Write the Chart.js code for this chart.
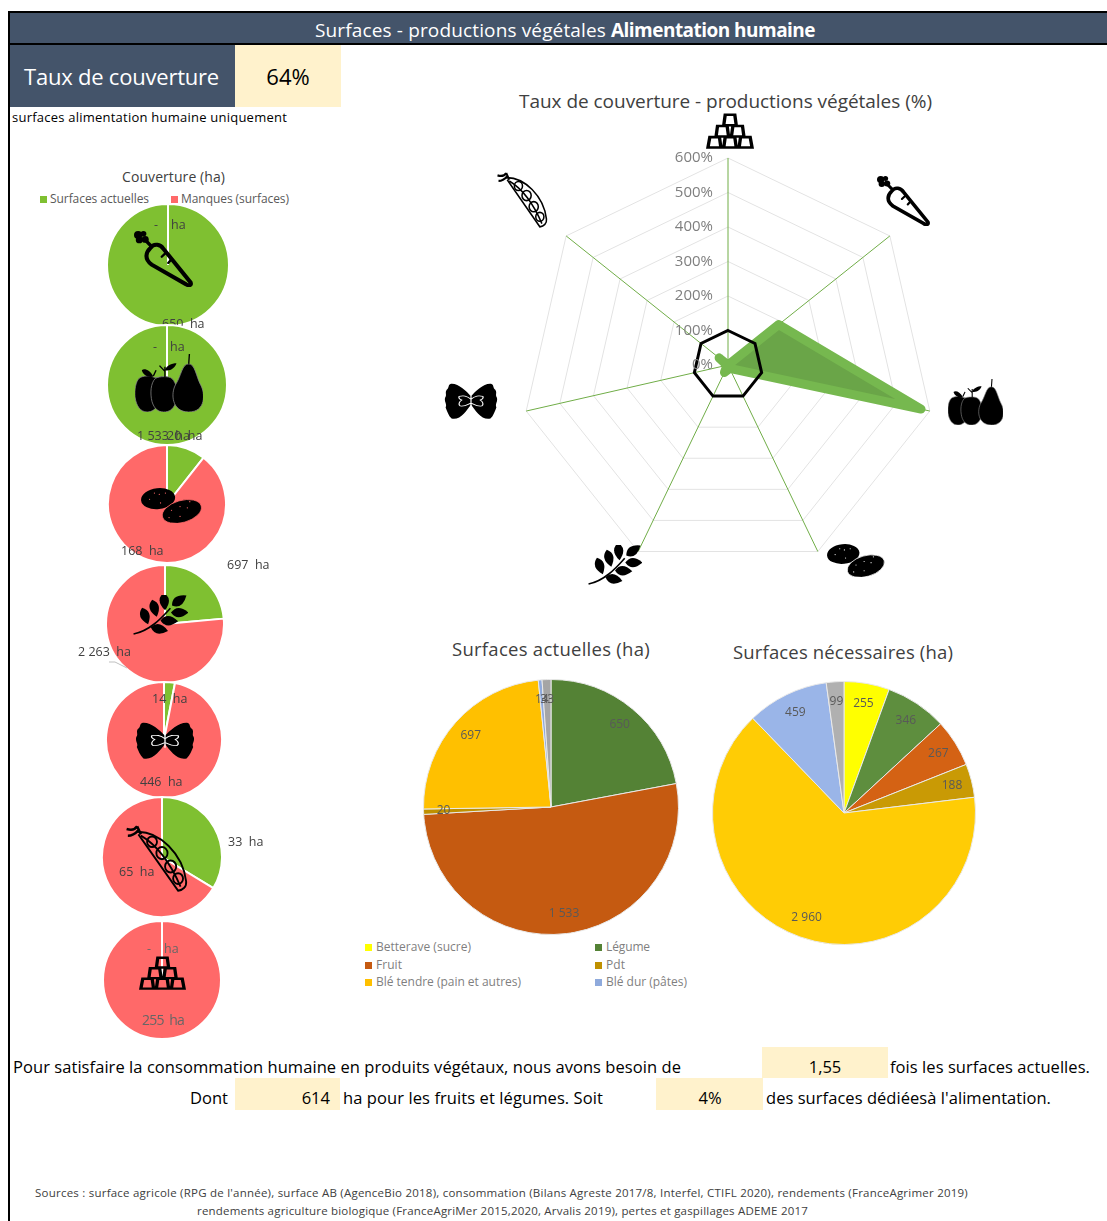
<!DOCTYPE html>
<html lang="fr">
<head>
<meta charset="utf-8">
<title>Surfaces - productions végétales</title>
<script src="https://cdn.jsdelivr.net/npm/chart.js@4"></script>
<style>
html,body{margin:0;padding:0;background:#fff}
#page{position:relative;width:1107px;height:1221px;overflow:hidden;font-family:"Open Sans",sans-serif;color:#000}
#page div,#page canvas,#page svg{position:absolute}
.t{white-space:pre;line-height:1}
</style>
</head>
<body>
<div id="page"></div>
<script>
// data
const categories = ["Betterave (sucre)", "Légume", "Fruit", "Pdt", "Blé tendre (pain et autres)", "Blé dur (pâtes)", "Pois"];
const surfacesActuelles = [0, 650, 1533, 20, 697, 14, 33];
const surfacesNecessaires = [255, 346, 267, 188, 2960, 459, 99];
const manques = [255, 0, 0, 168, 2263, 446, 65];
const tauxCouverture = [0, 188, 574, 11, 24, 3, 33];
const objectif = [100, 100, 100, 100, 100, 100, 100];
const radarTicks = ["0%", "100%", "200%", "300%", "400%", "500%", "600%"];

const colorsActuelles = ["#ffff00", "#548235", "#c55a11", "#bf9000", "#ffc000", "#8faadc", "#a5a5a5"];
const colorsNecessaires = ["#ffff00", "#5e8e3e", "#d46214", "#c99a05", "#ffcc05", "#9ab5e8", "#b0b0b0"];
const GREEN = "#7fc031", RED = "#ff6969", SLATE = "#44546a", CREAM = "#fff2cc";

const page = document.getElementById("page");

function box(x, y, w, h, color) {
  const d = document.createElement("div");
  d.style.cssText = `left:${x}px;top:${y}px;width:${w}px;height:${h}px;background:${color}`;
  page.appendChild(d);
  return d;
}

// text helper, y is the middle of the line. fit = width wanted in px
function txt(str, x, y, size, color, o = {}) {
  const d = document.createElement("div");
  d.className = "t";
  d.style.cssText = `left:${x}px;top:${y}px;font-size:${size}px;color:${color};font-weight:${o.bold ? 700 : 400}`;
  d.innerHTML = str;
  const tx = o.align === "center" ? "-50%" : o.align === "right" ? "-100%" : "0";
  d.style.transform = `translate(${tx},-50%)`;
  page.appendChild(d);
  if (o.fit) {
    const w = d.getBoundingClientRect().width;
    d.style.letterSpacing = ((o.fit - w) / d.textContent.length) + "px";
  }
  return d;
}

function newCanvas(x, y, w, h) {
  const c = document.createElement("canvas");
  c.width = w; c.height = h;
  c.style.cssText = `left:${x}px;top:${y}px;width:${w}px;height:${h}px`;
  page.appendChild(c);
  return c;
}

const fmt = v => String(v).replace(/\B(?=(\d{3})+$)/g, " ");

// icons
function iconSvg(name, cx, cy, w, h, dot) {
  const ns = "http://www.w3.org/2000/svg";
  const s = document.createElementNS(ns, "svg");
  s.setAttribute("viewBox", "0 0 100 100");
  s.setAttribute("preserveAspectRatio", "none");
  s.style.cssText = `left:${cx - w / 2}px;top:${cy - h / 2}px;width:${w}px;height:${h}px`;
  s.innerHTML = icons[name](dot);
  page.appendChild(s);
}

const leaf = (x, y, a) => `<path transform="translate(${x} ${y}) rotate(${a})" d="M-16 0Q-4 -17 16 0Q-4 17 -16 0Z"/>`;

const icons = {
  gold: () => `<g fill="none" stroke="#000" stroke-width="7" stroke-linejoin="miter">
    <path d="M8 67H28L31 96H4Z M40 67H60L63 96H37Z M72 67H92L96 96H69Z M24 36H44L47 65H21Z M56 36H76L79 65H53Z M40 5H60L63 34H37Z"/></g>`,
  carrot: () => `<g fill="none" stroke="#000" stroke-width="7" stroke-linecap="round">
    <path d="M28 30C34 21 45 24 50 32L96 92C98 98 92 98 88 95L30 60C17 50 20 38 28 30Z"/>
    <path d="M47 46L53 40M58 57L64 50" stroke-width="4"/></g>
    <g fill="#000"><circle cx="7" cy="7" r="7"/><circle cx="16" cy="5" r="5"/><circle cx="9" cy="16" r="6"/><circle cx="19" cy="15" r="6"/></g>
    <path d="M18 15L30 28" stroke="#000" stroke-width="6"/>`,
  fruit: () => `<g fill="#000" stroke="#8a8a8a" stroke-width="1.2">
    <path d="M6 42C12 36 24 38 28 40C38 40 42 62 36 82C32 96 24 100 18 100C8 100 2 90 0 74C-1 62 1 48 6 42Z"/>
    <path d="M30 42C36 38 50 38 54 42C62 50 64 70 60 84C56 96 50 100 42 100C34 100 28 94 25 82C22 68 23 50 30 42Z"/>
    <path d="M79 17C69 17 68 38 60 52C52 68 54 100 79 100C104 100 104 68 96 52C90 38 88 17 79 17Z"/></g>
    <path d="M10 28C14 24 22 28 27 39C18 41 12 36 10 28Z M44 28C46 20 54 16 61 16C59 24 52 30 44 28Z" fill="#000"/>
    <path d="M79 17L80 0M44 40V22M27 38L31 28M36 20L44 30" stroke="#000" stroke-width="2" fill="none"/>`,
  potato: dot => `<g transform="scale(1 1.7)"><g fill="#000"><ellipse cx="28" cy="19" rx="28" ry="17" transform="rotate(-6 28 19)"/>
    <ellipse cx="67" cy="40" rx="33" ry="18" stroke="${dot}" stroke-width="1.2" transform="rotate(-16 67 40)"/></g>
    <g fill="${dot}"><circle cx="14" cy="20" r="1"/><circle cx="22" cy="10" r="1"/><circle cx="30" cy="12" r="1"/><circle cx="40" cy="10" r="1"/><circle cx="32" cy="26" r="1"/>
    <circle cx="50" cy="38" r="1"/><circle cx="64" cy="32" r="1"/><circle cx="76" cy="34" r="1"/><circle cx="80" cy="24" r="1"/><circle cx="46" cy="50" r="1"/><circle cx="64" cy="48" r="1"/></g></g>`,
  wheat: () => `<g transform="scale(1 1.375)"><path d="M1 71C30 65 50 44 68 24" stroke="#000" stroke-width="3" fill="none"/>
    <g fill="#000">${leaf(22, 38, 70)}${leaf(39, 24, 75)}${leaf(57, 12, 85)}${leaf(84, 10, -35)}${leaf(85, 32, 0)}${leaf(66, 47, 3)}${leaf(48, 62, 12)}</g></g>`,
  farfalle: () => `<path fill="#000" d="M50 36C42 22 26 0 13 2C7 4 10 14 5 18C1 26 6 32 2 40C0 52 6 56 3 66C6 76 8 88 14 96C30 102 42 74 50 58C58 74 70 102 86 96C92 88 94 76 97 66C94 56 100 52 98 40C94 32 99 26 95 18C90 14 93 4 87 2C74 0 58 22 50 36Z"/>
    <path fill="none" stroke="#fff" stroke-width="2.2" d="M50 44C42 34 36 34 28 36C26 42 30 44 33 46C28 50 26 58 30 62C38 64 44 58 50 54C56 58 62 64 70 62C74 58 72 50 67 46C70 44 74 42 72 36C64 34 58 34 50 44ZM50 34V68"/>`,
  pea: () => `<g fill="none" stroke="#000" stroke-width="3">
    <path d="M16 10C54 8 92 44 97 84C98 92 92 97 84 98L20 14"/>
    <path d="M24 16C50 30 72 58 88 92"/>
    <circle cx="42" cy="25" r="8"/><circle cx="58" cy="42" r="9"/><circle cx="72" cy="62" r="9"/><circle cx="84" cy="80" r="8"/></g>
    <path d="M1 6C8 8 14 8 18 2M3 16C10 16 16 12 20 8M18 2L24 14" fill="none" stroke="#000" stroke-width="4"/>`
};

// header
box(8, 11, 1099, 2, "#000");
box(8, 11, 2, 1210, "#000");
box(10, 13, 1097, 30, SLATE);
box(10, 43, 1097, 2, "#000");
box(10, 45, 225, 62, SLATE);
box(235, 45, 106, 62, CREAM);
txt("Surfaces - productions végétales", 315, 30, 19, "#fff", {fit: 291});
txt("Alimentation humaine", 611, 30, 19, "#fff", {bold: true, fit: 204});
txt("Taux de couverture", 24, 76, 22, "#fff", {fit: 195});
txt("64%", 288, 76, 22, "#000", {align: "center"});
txt("surfaces alimentation humaine uniquement", 12, 117, 13, "#000", {fit: 275});

// left column
txt("Couverture (ha)", 122, 177, 14, "#404040", {fit: 103});
box(40, 196, 7, 7, GREEN);
txt("Surfaces actuelles", 50, 199, 12, "#595959", {fit: 99});
box(171, 196, 7, 7, RED);
txt("Manques (surfaces)", 181, 199, 12, "#595959", {fit: 108});

// one small pie per crop: index in categories, centre, radius, icon box, label boxes
const smallPies = [
  {i: 1, x: 168, y: 265, r: 60, icon: "carrot", ic: [163, 259, 59, 56], la: [162, 324], lm: [154, 225]},
  {i: 2, x: 167, y: 385, r: 59, icon: "fruit", ic: [169, 383, 68, 58], la: [137, 436], lm: [153, 347]},
  {i: 3, x: 167, y: 504, r: 58, icon: "potato", ic: [171, 505, 61, 36], la: [167, 436], lm: [121, 551]},
  {i: 4, x: 165, y: 624, r: 58, icon: "wheat", ic: [160, 615, 55, 40], la: [227, 565], lm: [78, 652]},
  {i: 5, x: 164, y: 740, r: 57, icon: "farfalle", ic: [165, 741, 60, 38], la: [152, 699], lm: [140, 782]},
  {i: 6, x: 162, y: 857, r: 59, icon: "pea", ic: [157, 858, 62, 67], la: [228, 842], lm: [119, 872]},
  {i: 0, x: 162, y: 980, r: 58, icon: "gold", ic: [162, 973, 47, 34], la: [147, 949], lm: [142, 1020]}
];

const label = v => v === 0 ? "-    ha" : fmt(v) + "  ha";

smallPies.forEach(p => {
  const half = p.r + 2;
  new Chart(newCanvas(p.x - half, p.y - half, half * 2, half * 2), {
    type: "pie",
    data: {
      labels: ["Surfaces actuelles", "Manques (surfaces)"],
      datasets: [{
        data: [surfacesActuelles[p.i], manques[p.i]],
        backgroundColor: [GREEN, RED],
        borderColor: "#fff",
        borderWidth: 2
      }]
    },
    options: {
      responsive: false,
      animation: false,
      plugins: {legend: {display: false}, tooltip: {enabled: false}}
    }
  });
  iconSvg(p.icon, p.ic[0], p.ic[1], p.ic[2], p.ic[3], RED);
  const col = p.i === 0 ? "#666" : "#404040";
  txt(label(surfacesActuelles[p.i]), p.la[0], p.la[1], 12.5, col);
  txt(label(manques[p.i]), p.lm[0], p.lm[1], p.i === 0 ? 14 : 12.5, col, p.i === 0 ? {fit: 42} : {});
});

// leader line of the 2 263 ha label
const lead = document.createElementNS("http://www.w3.org/2000/svg", "svg");
lead.style.cssText = "left:105px;top:658px;width:30px;height:16px";
lead.innerHTML = '<path d="M4 4H10L22 10" fill="none" stroke="#bfbfbf" stroke-width="1"/>';
page.appendChild(lead);

// radar, black heptagon = 100 %
const radarTickLabels = {
  id: "radarTickLabels",
  afterDraw(chart) {
    const s = chart.scales.r, ctx = chart.ctx;
    ctx.save();
    ctx.font = '15px "Open Sans"';
    ctx.fillStyle = "#7f7f7f";
    ctx.textAlign = "right";
    ctx.textBaseline = "middle";
    s.ticks.forEach((t, i) => {
      ctx.fillText(radarTicks[i], s.xCenter - 15, s.yCenter - s.getDistanceFromCenterForValue(t.value));
    });
    ctx.restore();
  }
};

new Chart(newCanvas(478, 115, 500, 500), {
  type: "radar",
  data: {
    labels: categories,
    datasets: [
      {data: objectif, borderColor: "#000", borderWidth: 3, pointRadius: 0, fill: false, tension: 0, borderJoinStyle: "miter"},
      {data: tauxCouverture, borderColor: "#76b84f", backgroundColor: "#6aa548", borderWidth: 9, pointRadius: 0, fill: true, borderJoinStyle: "round"}
    ]
  },
  options: {
    responsive: false,
    animation: false,
    layout: {padding: 43},
    scales: {
      r: {
        min: 0,
        max: 600,
        ticks: {display: false, stepSize: 100},
        grid: {color: "#e3e3e3", lineWidth: 1},
        angleLines: {color: "#70ad47", lineWidth: 1},
        pointLabels: {display: false}
      }
    },
    plugins: {legend: {display: false}, tooltip: {enabled: false}}
  },
  plugins: [radarTickLabels]
});

txt("Taux de couverture - productions végétales (%)", 519, 101, 19, "#404040", {fit: 413});
iconSvg("gold", 730, 131, 48, 36);
iconSvg("carrot", 903, 201, 53, 50);
iconSvg("fruit", 975, 402, 55, 46);
iconSvg("potato", 856, 560, 58, 34, "#fff");
iconSvg("wheat", 615, 565, 54, 40);
iconSvg("farfalle", 471, 401, 54, 37);
iconSvg("pea", 522, 200, 51, 56);

// value labels on the big pies
const sliceLabels = {
  id: "sliceLabels",
  afterDraw(chart) {
    const ctx = chart.ctx, values = chart.data.datasets[0].data;
    ctx.save();
    ctx.font = '12px "Open Sans"';
    ctx.fillStyle = "#595959";
    ctx.textAlign = "center";
    ctx.textBaseline = "middle";
    chart.getDatasetMeta(0).data.forEach((arc, i) => {
      if (!values[i]) return;
      const a = (arc.startAngle + arc.endAngle) / 2, d = arc.outerRadius - 20;
      ctx.fillText(fmt(values[i]), arc.x + Math.cos(a) * d, arc.y + Math.sin(a) * d);
    });
    ctx.restore();
  }
};

function bigPie(x, y, r, values, colors) {
  const half = r + 1;
  new Chart(newCanvas(x - half, y - half, half * 2, half * 2), {
    type: "pie",
    data: {
      labels: categories,
      datasets: [{data: values, backgroundColor: colors, borderColor: "#e9e9e9", borderWidth: 1}]
    },
    options: {
      responsive: false,
      animation: false,
      plugins: {legend: {display: false}, tooltip: {enabled: false}}
    },
    plugins: [sliceLabels]
  });
}

bigPie(551, 807, 127, surfacesActuelles, colorsActuelles);
bigPie(844, 813, 131, surfacesNecessaires, colorsNecessaires);
txt("Surfaces actuelles (ha)", 452, 649, 18.5, "#404040", {fit: 198});
txt("Surfaces nécessaires (ha)", 733, 652, 18.5, "#404040", {fit: 220});

// shared legend, Pois is not listed in the reference
const legendRows = [[0, 365, 947], [1, 595, 947], [2, 365, 965], [3, 595, 965], [4, 365, 982], [5, 595, 982]];
const legendWidths = [95, 44, 26, 19, 145, 81];
legendRows.forEach((r, n) => {
  box(r[1], r[2] - 3.5, 7, 7, colorsActuelles[r[0]]);
  txt(categories[r[0]], r[1] + 11, r[2], 12, "#7f7f7f", {fit: legendWidths[n]});
});

// bottom text
box(762, 1047, 126, 31, CREAM);
box(235, 1078, 105, 32, CREAM);
box(656, 1078, 107, 32, CREAM);
txt("Pour satisfaire la consommation humaine en produits végétaux, nous avons besoin de", 13, 1067, 16.5, "#000", {fit: 668});
txt("1,55", 825, 1067, 16.5, "#000", {align: "center"});
txt("fois les surfaces actuelles.", 890, 1067, 16.5, "#000", {fit: 200});
txt("Dont", 190, 1098, 16.5, "#000", {fit: 38});
txt("614", 330, 1098, 16.5, "#000", {align: "right"});
txt("ha pour les fruits et légumes. Soit", 343, 1098, 16.5, "#000", {fit: 260});
txt("4%", 710, 1098, 16.5, "#000", {align: "center"});
txt("des surfaces dédiéesà l'alimentation.", 766, 1098, 16.5, "#000", {fit: 285});
txt("Sources : surface agricole (RPG de l'année), surface AB (AgenceBio 2018), consommation (Bilans Agreste 2017/8, Interfel, CTIFL 2020), rendements (FranceAgrimer 2019)", 35, 1193, 11.5, "#404040", {fit: 933});
txt("rendements agriculture biologique (FranceAgriMer 2015,2020, Arvalis 2019), pertes et gaspillages ADEME 2017", 197, 1211, 11.5, "#404040", {fit: 611});
</script>
</body>
</html>
